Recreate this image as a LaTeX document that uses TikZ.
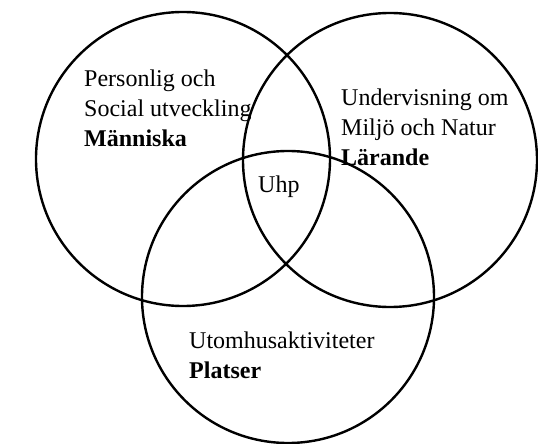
\documentclass[tikz,border=0pt]{standalone}
\usepackage{fontspec}
\setmainfont{Liberation Serif}
\usepackage{tikz}

\begin{document}
\begin{tikzpicture}[x=1pt,y=-1pt,
  ring/.style={circle,draw,line width=2.4pt,inner sep=0pt,minimum size=294pt},
  txt/.style={align=left,anchor=north west,inner sep=0pt,font=\fontsize{24}{30}\selectfont}]
\useasboundingbox (0,0) rectangle (538,444);
\node [ring] (m) at (183,159) {};
\node [ring] (l) at (390,160) {};
\node [ring,minimum size=292pt] (p) at (288,297) {};
\node [txt] (mt) at (84,70) {Personlig och\\Social utveckling\\\textbf{Människa}};
\node [txt] (lt) at (341,89) {Undervisning om\\Miljö och Natur\\\textbf{Lärande}};
\node [txt] (pt) at (189,332) {Utomhusaktiviteter\\\textbf{Platser}};
\node [txt] (u) at (258,176) {Uhp};
\end{tikzpicture}
\end{document}
